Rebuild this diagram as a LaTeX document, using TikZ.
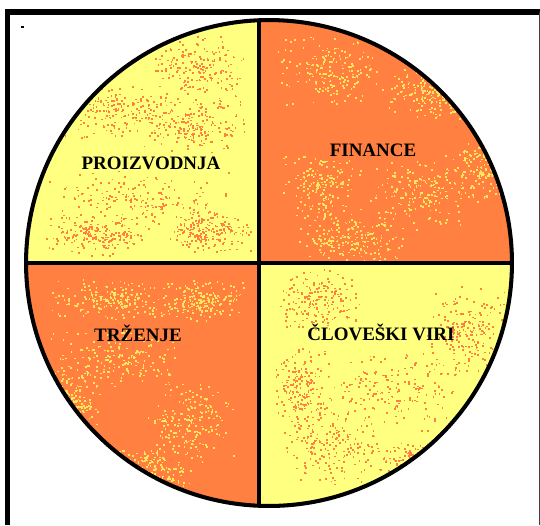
\documentclass[tikz,border=0pt]{standalone}
\usepackage{fontspec}
\setmainfont{Liberation Serif}
\definecolor{quadyellow}{HTML}{FFFF80}
\definecolor{quadorange}{HTML}{FF8040}
\definecolor{speckyellow}{HTML}{FFE860}
\begin{document}
\begin{tikzpicture}[
      x=0.02cm, y=-0.02cm,
      label/.style={font=\bfseries\fontsize{10.8}{12}\selectfont, inner sep=1pt},
      rim/.style={draw=black, line width=2.3pt},
      divider/.style={draw=black, line width=2pt}
    ]
    \useasboundingbox (0,0) rectangle (540,525);
    \fill[white] (0,0) rectangle (540,525);

    % Frame
    \draw[line width=3.2pt] (7.5,525) -- (7.5,12) -- (540,12);
    \draw[line width=0.6pt, black!75] (539.3,12) -- (539.3,525);
    \fill (21,25.5) rectangle (24,27.5);

    \coordinate (c) at (269,263);

    % Quadrants with speckle
    \pgfmathsetseed{11}
    \begin{scope}
      \clip (c) circle[radius=4.86cm];
      \fill[quadyellow] (0,0) rectangle (259,263);
      \fill[quadorange] (259,0) rectangle (540,263);
      \fill[quadorange] (0,263) rectangle (259,525);
      \fill[quadyellow] (259,263) rectangle (540,525);

      % orange specks on yellow
      \foreach \bx/\by/\bw/\bh in {200/70/50/35, 120/110/65/28, 190/125/55/28,
                                  140/200/95/32, 95/235/55/22, 210/232/45/22,
                                  320/300/45/32, 400/390/85/45, 330/445/55/42,
                                  470/330/45/45, 300/385/30/45, 420/460/45/22}{
        \foreach \k in {1,...,190}{
          \pgfmathsetmacro\px{\bx+(rnd+rnd-1)*\bw}
          \pgfmathsetmacro\py{\by+(rnd+rnd-1)*\bh}
          \fill[quadorange] (\px,\py) rectangle +(1.7,1.7);
        }
      }
      % yellow specks on orange
      \foreach \bx/\by/\bw/\bh in {330/70/55/38, 430/90/45/32, 320/190/45/42,
                                  420/190/55/42, 485/170/32/32, 350/240/55/22,
                                  110/300/65/22, 200/300/45/22, 120/360/75/32,
                                  70/400/32/32, 190/420/45/42, 150/470/45/28}{
        \foreach \k in {1,...,190}{
          \pgfmathsetmacro\px{\bx+(rnd+rnd-1)*\bw}
          \pgfmathsetmacro\py{\by+(rnd+rnd-1)*\bh}
          \fill[speckyellow] (\px,\py) rectangle +(1.7,1.7);
        }
      }

      % Dividers
      \draw[divider] (259,0) -- (259,525);
      \draw[divider] (0,263) -- (540,263);
    \end{scope}
    \draw[rim] (c) circle[radius=4.86cm];

    % Labels
    \node[label] (prod) at (151,163) {PROIZVODNJA};
    \node[label] (fin) at (373,150) {FINANCE};
    \node[label] (trz) at (138,333) {TRŽENJE};
    \node[label] (hr) at (381,332) {ČLOVEŠKI VIRI};
  \end{tikzpicture}
\end{document}
